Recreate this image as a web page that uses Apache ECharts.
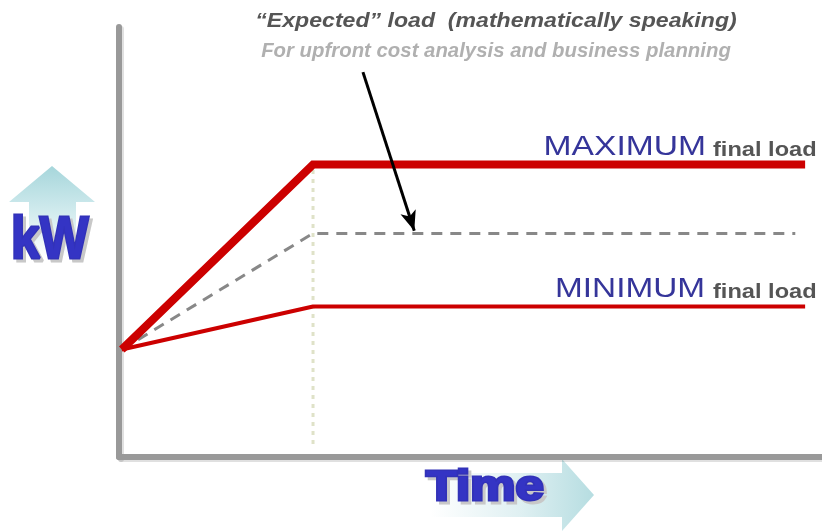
<!DOCTYPE html>
<html>
<head>
<meta charset="utf-8">
<script src="https://cdn.jsdelivr.net/npm/echarts@6/dist/echarts.min.js"></script>
<style>html,body{margin:0;padding:0;background:#fff}#c{width:822px;height:531px}</style>
</head>
<body>
<div id="c"></div>
<script>
// Time positions (arbitrary units, 0..100 across the x axis)
const timePoints = [0.4, 27.6, 97.6];
const expectedTime = [0.4, 27.6, 96.2];
// Load levels (arbitrary units, 0..100 up the y axis)
const maxLoad = [25, 68, 68];
const expectedLoad = [25, 52, 52];
const minLoad = [25, 35, 35];
const guideTime = [27.6, 27.6];
const guideLoad = [3, 68];
const pointerFrom = [34.7, 89.5];
const pointerTo = [42.0, 52.6];

const titleText = '\u201cExpected\u201d load  (mathematically speaking)';
const subText = 'For upfront cost analysis and business planning';

function pairs(xs, ys) { return xs.map((x, i) => [x, ys[i]]); }

const FF = '"Liberation Sans", Arial, sans-serif';
function txt(x, y, text, size, weight, style, color, align, sx) {
  return {
    type: 'text', z: 10, silent: true, x: x, y: y, scaleX: sx || 1,
    style: { x: 0, y: 0, text: text, align: align, verticalAlign: 'middle',
      fontFamily: FF, fontSize: size, fontWeight: weight, fontStyle: style, fill: color }
  };
}
function bigTxt(x, y, text, size, sx) {
  const s = txt(x + 3, y + 3, text, size, 'bold', 'normal', '#c8c8c8', 'left', sx);
  s.style.stroke = '#c8c8c8';
  s.style.lineWidth = 3;
  s.z = 9;
  const m = txt(x, y, text, size, 'bold', 'normal', '#3434c4', 'left', sx);
  m.style.stroke = '#3232b8';
  m.style.lineWidth = 3;
  m.style.lineJoin = 'round';
  return [s, m];
}

const chart = echarts.init(document.getElementById('c'));
const G = echarts.graphic;

chart.setOption({
  animation: false,
  grid: { left: 119, right: 0, top: 27, bottom: 74 },
  xAxis: {
    type: 'value', min: 0, max: 100,
    axisLine: { show: true, onZero: false, lineStyle: { color: '#999', width: 6, shadowColor: 'rgba(0,0,0,0.12)', shadowOffsetX: 2, shadowOffsetY: 2 } },
    axisTick: { show: false }, axisLabel: { show: false }, splitLine: { show: false }
  },
  yAxis: {
    type: 'value', min: 0, max: 100,
    axisLine: { show: true, onZero: false, lineStyle: { color: '#999', width: 6, shadowColor: 'rgba(0,0,0,0.12)', shadowOffsetX: 2, shadowOffsetY: 2 } },
    axisTick: { show: false }, axisLabel: { show: false }, splitLine: { show: false }
  },
  series: [
    {
      type: 'line', data: pairs(guideTime, guideLoad), symbol: 'none', silent: true, z: 1,
      lineStyle: { color: '#dfe2c8', width: 3, type: [4, 5] }
    },
    {
      type: 'line', data: pairs(expectedTime, expectedLoad), symbol: 'none', silent: true, z: 2,
      lineStyle: { color: '#888', width: 3, type: [11, 8] },
      markLine: {
        silent: true, symbol: ['none', 'arrow'], symbolSize: [12, 20],
        label: { show: false },
        lineStyle: { color: '#000', width: 3, type: 'solid' },
        data: [[{ coord: pointerFrom }, { coord: pointerTo }]]
      }
    },
    {
      type: 'line', data: pairs(timePoints, minLoad), symbol: 'none', silent: true, z: 3,
      lineStyle: { color: '#cc0000', width: 4 }
    },
    {
      type: 'line', data: pairs(timePoints, maxLoad), symbol: 'none', silent: true, z: 4,
      lineStyle: { color: '#cc0000', width: 8, join: 'miter' }
    }
  ],
  graphic: [
    { type: 'polygon', z: 0, silent: true,
      shape: { points: [[52,166],[95,202],[76,202],[76,258],[29,258],[29,202],[9,202]] },
      style: { fill: new G.LinearGradient(0, 0, 0, 1, [{ offset: 0, color: '#a6d6db' }, { offset: 0.45, color: '#cde9ec' }, { offset: 1, color: '#ffffff' }]) } },
    { type: 'polygon', z: 0, silent: true,
      shape: { points: [[430,473],[562,473],[562,459],[594,495],[562,531],[562,517],[430,517]] },
      style: { fill: new G.LinearGradient(0, 0, 1, 0, [{ offset: 0, color: '#ffffff' }, { offset: 0.55, color: '#dff0f2' }, { offset: 1, color: '#b6dde1' }]) } },
    ...bigTxt(11, 241, 'kW', 60, 0.86),
    ...bigTxt(426, 488, 'Time', 42, 1.21),
    txt(496, 21, titleText, 21, 'bold', 'italic', '#555555', 'center', 1.1),
    txt(496, 51, subText, 21, 'bold', 'italic', '#b0b0b0', 'center', 0.97),
    txt(706, 147, 'MAXIMUM', 28, 'normal', 'normal', '#35359a', 'right', 1.2),
    txt(713, 150, 'final load', 20, 'bold', 'normal', '#555555', 'left', 1.18),
    txt(705, 289, 'MINIMUM', 28, 'normal', 'normal', '#35359a', 'right', 1.19),
    txt(713, 292, 'final load', 20, 'bold', 'normal', '#555555', 'left', 1.18)
  ]
});
</script>
</body>
</html>
